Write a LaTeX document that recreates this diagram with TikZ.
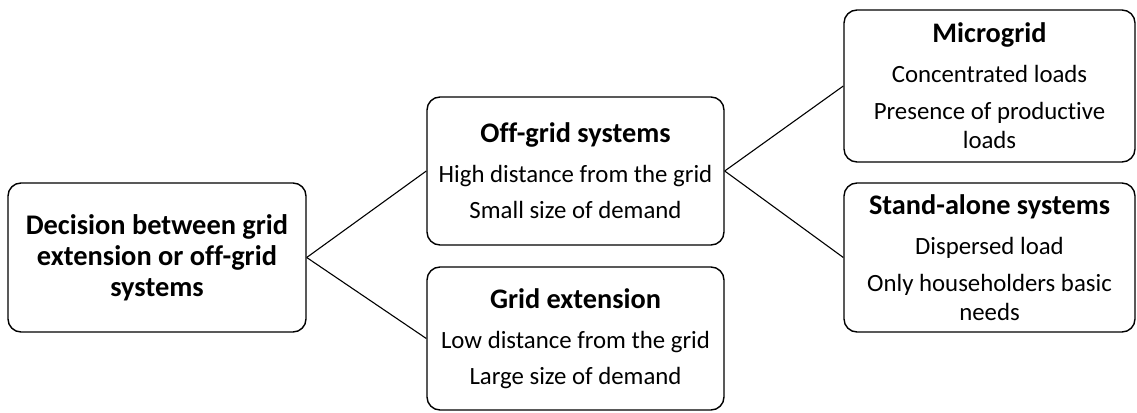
\documentclass[tikz,border=0pt]{standalone}
\usepackage{fontspec}
\setmainfont{Carlito}[Ligatures={NoCommon}]
\begin{document}
\begin{tikzpicture}[x=1pt,y=1pt,
  box/.style={draw, line width=1.4pt, rounded corners=13pt, align=center, inner sep=0pt,
    font=\fontsize{24.8}{29}\selectfont},
  link/.style={line width=1.1pt}]
\useasboundingbox (0,0) rectangle (1137,412);
\newcommand\ttl{\bfseries\fontsize{28.3}{29}\selectfont}
\node[box, minimum width=298pt, minimum height=149pt, font=\bfseries\fontsize{28.4}{31}\selectfont] (dec) at (157,154.5)
  {Decision between grid\\extension or off-grid\\systems};
\node[box, minimum width=297pt, minimum height=148pt] (off) at (575.5,241)
  {{\ttl Off-grid systems}\\[11pt]High distance from the grid\\[7pt]Small size of demand};
\node[box, minimum width=297pt, minimum height=143pt] (ext) at (575.5,73.5)
  {{\ttl Grid extension}\\[11pt]Low distance from the grid\\[7pt]Large size of demand};
\node[box, minimum width=291pt, minimum height=152pt] (mic) at (989.5,326)
  {{\ttl Microgrid}\\[11pt]Concentrated loads\\[8pt]Presence of productive\\loads};
\node[box, minimum width=291pt, minimum height=149pt] (sta) at (989.5,154.5)
  {{\ttl Stand-alone systems}\\[11pt]Dispersed load\\[8pt]Only householders basic\\needs};
\draw[link] (dec.east) -- (off.west);
\draw[link] (dec.east) -- (ext.west);
\draw[link] (off.east) -- (mic.west);
\draw[link] (off.east) -- (sta.west);
\end{tikzpicture}
\end{document}
